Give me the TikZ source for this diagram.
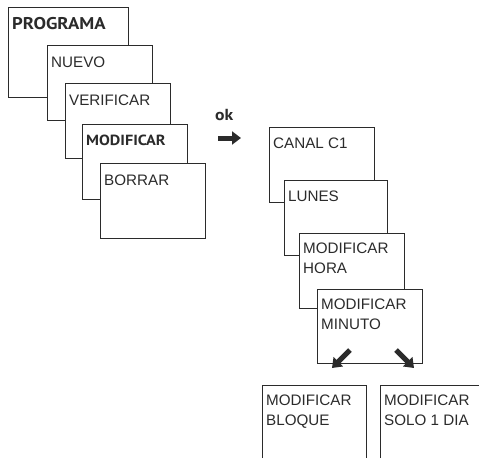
\documentclass[tikz,border=0pt]{standalone}
\usepackage{fontspec}
\setmainfont{Liberation Sans}
\newfontfamily\headfont{PT Sans}[FakeStretch=1.1]
\usetikzlibrary{arrows.meta}
\definecolor{ink}{HTML}{2B2B2B}
\begin{document}
\begin{tikzpicture}[x=1pt,y=-1pt,
  screen/.style={draw=ink,line width=0.9pt,fill=white,rectangle,inner sep=0pt,
    minimum width=105pt,minimum height=75pt,anchor=north west},
  caption/.style={anchor=base west,inner sep=0pt,text=ink,
    font=\fontsize{15.2}{20}\selectfont},
  headcap/.style={anchor=base west,inner sep=0pt,text=ink,
    font=\headfont\bfseries\fontsize{14.7}{20}\selectfont},
  bigarrow/.style={draw=ink,line width=5pt,-{Triangle[length=9pt,width=13pt]}}]
\useasboundingbox (0,0) rectangle (479,458);

% left menu stack
\node[screen,minimum width=120pt,minimum height=90pt] (prog) at (8,7) {};
\node[headcap,font=\headfont\bfseries\fontsize{17}{20}\selectfont] (tprog)
  at ([shift={(4,22)}]prog.north west) {PROGRAMA};
\node[screen] (nuevo) at (47,45) {};
\node[caption] (tnuevo) at ([shift={(4,22)}]nuevo.north west) {NUEVO};
\node[screen] (verif) at (65,83) {};
\node[caption] (tverif) at ([shift={(4,22)}]verif.north west) {VERIFICAR};
\node[screen] (modif) at (82,124) {};
\node[headcap] (tmodif) at ([shift={(4,21)}]modif.north west) {MODIFICAR};
\node[screen] (borrar) at (100,163) {};
\node[caption] (tborrar) at ([shift={(4,22)}]borrar.north west) {BORRAR};

% ok key
\node[headcap,font=\headfont\bfseries\fontsize{16}{20}\selectfont] (ok) at (215,120) {ok};
\coordinate (okA) at (218,138);
\coordinate (okB) at (241,138);
\draw[bigarrow] (okA) -- (okB);

% right menu stack
\node[screen] (canal) at (269,127) {};
\node[caption] (tcanal) at ([shift={(4,21)}]canal.north west) {CANAL C1};
\node[screen,minimum width=103pt] (lunes) at (284,180) {};
\node[caption] (tlunes) at ([shift={(4,21)}]lunes.north west) {LUNES};
\node[screen] (hora) at (299,233) {};
\node[caption] (thora1) at ([shift={(4,20)}]hora.north west) {MODIFICAR};
\node[caption] (thora2) at ([shift={(4,40)}]hora.north west) {HORA};
\node[screen,minimum height=74pt] (minuto) at (317,289) {};
\node[caption] (tminuto1) at ([shift={(4,20)}]minuto.north west) {MODIFICAR};
\node[caption] (tminuto2) at ([shift={(4,40)}]minuto.north west) {MINUTO};

% branch arrows
\coordinate (lA) at (350,350);
\coordinate (lB) at (332,368);
\coordinate (rA) at (396,350);
\coordinate (rB) at (414,368);
\draw[bigarrow] (lA) -- (lB);
\draw[bigarrow] (rA) -- (rB);

% lower screens, cut off at the bottom
\coordinate (bq) at (262,385);
\coordinate (so) at (380,385);
\draw[draw=ink,line width=0.9pt] (262,458) -- (bq) -- (366,385) -- (366,458);
\draw[draw=ink,line width=0.9pt] (380,458) -- (so) -- (479,385);
\node[caption] (tbloque1) at ([shift={(4,20)}]bq) {MODIFICAR};
\node[caption] (tbloque2) at ([shift={(4,40)}]bq) {BLOQUE};
\node[caption] (tsolo1) at ([shift={(4,20)}]so) {MODIFICAR};
\node[caption] (tsolo2) at ([shift={(4,40)}]so) {SOLO 1 DIA};
\end{tikzpicture}
\end{document}
